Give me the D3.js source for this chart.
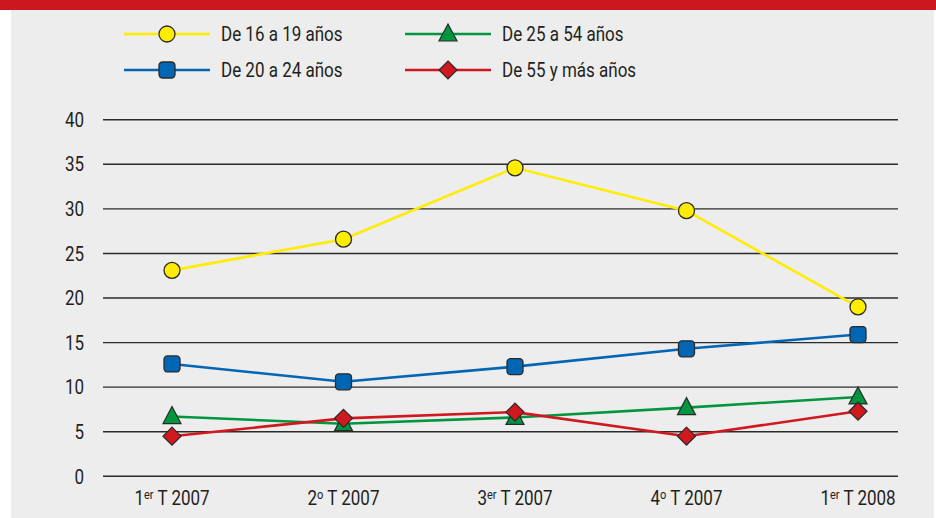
<!DOCTYPE html>
<html>
<head>
<meta charset="utf-8">
<script src="https://cdn.jsdelivr.net/npm/d3@7"></script>
<style>
  body { margin: 0; background: #fff; }
  text { font-family: Roboto, "Noto Sans", sans-serif; fill: #231f20; }
</style>
</head>
<body>
<div id="chart"></div>
<script>
// quarters (ordinal part, superscript, rest)
const quarters = [
  ['1', 'er', ' T 2007'],
  ['2', 'o', ' T 2007'],
  ['3', 'er', ' T 2007'],
  ['4', 'o', ' T 2007'],
  ['1', 'er', ' T 2008']
]
const seriesNames = ['De 16 a 19 años', 'De 20 a 24 años', 'De 25 a 54 años', 'De 55 y más años']
const age16to19 = [23.1, 26.6, 34.6, 29.8, 19.0]
const age20to24 = [12.6, 10.6, 12.3, 14.3, 15.9]
const age25to54 = [6.7, 5.9, 6.6, 7.7, 8.9]
const age55plus = [4.5, 6.5, 7.2, 4.5, 7.3]
const yTicks = [0, 5, 10, 15, 20, 25, 30, 35, 40]

const colors = ['#ffed00', '#0066b3', '#009640', '#d0181f']
const shapes = ['circle', 'square', 'triangle', 'diamond']
const allSeries = [age16to19, age20to24, age25to54, age55plus]

const width = 936
const height = 518
const narrow = 0.85 // condensed look

const svg = d3.select('#chart')
  .append('svg')
  .attr('width', width)
  .attr('height', height)

// background panel and red top band
svg.append('rect').attr('x', 11).attr('y', 0).attr('width', 923).attr('height', height).attr('fill', '#ededed')
svg.append('rect').attr('x', 0).attr('y', 0).attr('width', width).attr('height', 10).attr('fill', '#cc171f')

const x = d3.scalePoint()
  .domain(d3.range(quarters.length))
  .range([172, 858])

const y = d3.scaleLinear()
  .domain([0, 40])
  .range([476.3, 119.7])

// gridlines
svg.append('g')
  .selectAll('line')
  .data(yTicks)
  .enter()
  .append('line')
  .attr('x1', 103)
  .attr('x2', 898)
  .attr('y1', d => y(d))
  .attr('y2', d => y(d))
  .attr('stroke', '#2b2b2b')
  .attr('stroke-width', 1.4)

// y labels
svg.append('g')
  .selectAll('text')
  .data(yTicks)
  .enter()
  .append('text')
  .attr('transform', d => 'translate(84,' + y(d) + ') scale(' + narrow + ',1)')
  .attr('dy', '0.36em')
  .attr('text-anchor', 'end')
  .attr('font-size', 20)
  .text(d => d)

// x labels
const xl = svg.append('g')
  .selectAll('text')
  .data(quarters)
  .enter()
  .append('text')
  .attr('transform', (d, i) => 'translate(' + x(i) + ',505) scale(' + narrow + ',1)')
  .attr('text-anchor', 'middle')
  .attr('font-size', 20)
xl.append('tspan').text(d => d[0])
xl.append('tspan').attr('font-size', 13).attr('dy', -6).text(d => d[1])
xl.append('tspan').attr('dy', 6).text(d => d[2])

function marker(g, shape, color) {
  const s = '#2a2a2a'
  if (shape === 'circle') {
    g.append('circle').attr('r', 8).attr('fill', color).attr('stroke', s).attr('stroke-width', 1.3)
  } else if (shape === 'square') {
    g.append('rect').attr('x', -8).attr('y', -8).attr('width', 16).attr('height', 16).attr('rx', 3.5)
      .attr('fill', color).attr('stroke', s).attr('stroke-width', 1.3)
  } else if (shape === 'triangle') {
    g.append('path').attr('d', 'M0,-10L9,7L-9,7Z').attr('fill', color).attr('stroke', s).attr('stroke-width', 1.2)
  } else {
    g.append('path').attr('d', 'M0,-9L9,0L0,9L-9,0Z').attr('fill', color).attr('stroke', s).attr('stroke-width', 1.2)
  }
}

const line = d3.line()
  .x((d, i) => x(i))
  .y(d => y(d))

allSeries.forEach((values, k) => {
  const g = svg.append('g')
  g.append('path')
    .datum(values)
    .attr('d', line)
    .attr('fill', 'none')
    .attr('stroke', colors[k])
    .attr('stroke-width', 2.6)
  values.forEach((v, i) => {
    const m = g.append('g').attr('transform', 'translate(' + x(i) + ',' + y(v) + ')')
    marker(m, shapes[k], colors[k])
  })
})

// legend
const legendPos = [
  { lx: 124, ly: 34 },
  { lx: 124, ly: 70 },
  { lx: 405, ly: 34 },
  { lx: 405, ly: 70 }
]
seriesNames.forEach((name, k) => {
  const p = legendPos[k]
  const g = svg.append('g').attr('transform', 'translate(' + p.lx + ',' + p.ly + ')')
  g.append('line').attr('x1', 0).attr('x2', 86).attr('stroke', colors[k]).attr('stroke-width', 2.6)
  const m = g.append('g').attr('transform', 'translate(43,0)')
  marker(m, shapes[k], colors[k])
  g.append('text')
    .attr('transform', 'translate(97,0) scale(' + narrow + ',1)')
    .attr('dy', '0.36em')
    .attr('font-size', 20)
    .text(name)
})
</script>
</body>
</html>
